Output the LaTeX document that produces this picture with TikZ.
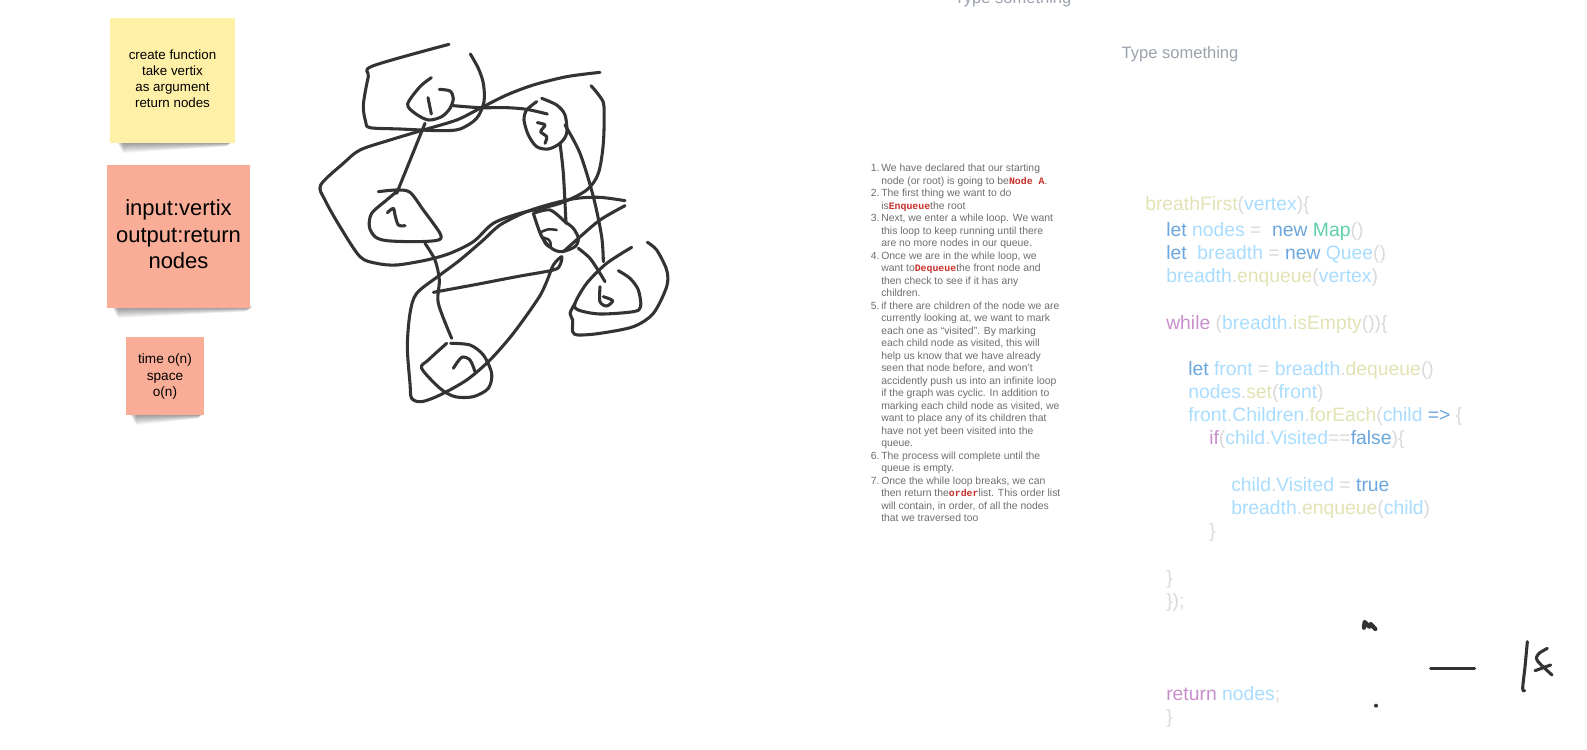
\documentclass[tikz,border=0pt]{standalone}
\usepackage{fontspec}
\setmainfont{Liberation Sans}
\newfontfamily\redmono{Liberation Mono}
\usepackage{tikz}
\definecolor{stickyyellow}{HTML}{FFF0A8}
\definecolor{stickyred}{HTML}{F9AD97}
\definecolor{inkdark}{HTML}{333333}
\definecolor{listgray}{HTML}{6E6E6E}
\definecolor{listred}{HTML}{C9302A}
\definecolor{hintgray}{HTML}{9AA3AD}
\definecolor{codevar}{HTML}{A9DDFF}
\definecolor{codefn}{HTML}{E2E3B4}
\definecolor{codekey}{HTML}{6BA6DD}
\definecolor{codectl}{HTML}{C88FCB}
\definecolor{codepun}{HTML}{DADADA}
\definecolor{codetype}{HTML}{5FD0AC}
\newcommand{\cv}[1]{\textcolor{codevar}{#1}}
\newcommand{\cf}[1]{\textcolor{codefn}{#1}}
\newcommand{\ck}[1]{\textcolor{codekey}{#1}}
\newcommand{\cc}[1]{\textcolor{codectl}{#1}}
\newcommand{\cp}[1]{\textcolor{codepun}{#1}}
\newcommand{\redword}[1]{\textcolor{listred}{\redmono\bfseries\fontsize{7.4}{9.375}\selectfont #1}}
\newcommand{\stickyshadow}[3]{%
  \foreach \k in {1,...,10}{
    \fill[black,opacity=0.045] (#1+\k*0.6,#3-2) -- (#2-\k*0.2,#3-2) -- (#2-\k*0.6,#3+\k*0.35) -- (#1+\k*0.6,#3+\k);
  }
}
\tikzset{
  sticky/.style={fill=#1,minimum width=0pt,inner sep=0pt,align=center,text=black},
  pen/.style={draw=inkdark,line width=2.3pt,line cap=round,line join=round},
  hint/.style={text=hintgray,inner sep=0pt,font=\fontsize{12.4}{15}\selectfont},
  codeline/.style={anchor=base west,inner sep=0pt,font=\fontsize{14.5}{17}\selectfont}
}
\begin{document}
\begin{tikzpicture}[x=0.75pt,y=-0.75pt]
    \clip (0,0) rectangle (1587,749);
    \fill[white] (0,0) rectangle (1587,749);
    % stickies
    \stickyshadow{117}{232}{143}
    \stickyshadow{112}{252}{308}
    \stickyshadow{130}{203}{415}
    \node[sticky=stickyyellow,minimum width=93.75pt,minimum height=93.75pt] (create) at (172.5,80.5) {};
    \node[inner sep=0pt,align=center,font=\fontsize{10}{12}\selectfont]
      (createtxt) at (172.5,78.5) {create function\\take vertix\\as argument\\return nodes};
    \node[sticky=stickyred,minimum width=107.25pt,minimum height=107.25pt] (inout) at (178.5,236.5) {};
    \node[inner sep=0pt,align=center,font=\fontsize{16.5}{19.9}\selectfont]
      (inouttxt) at (178.5,234.5) {input:vertix\\output:return\\nodes};
    \node[sticky=stickyred,minimum width=58.5pt,minimum height=58.5pt] (bigo) at (165,376) {};
    \node[inner sep=0pt,align=center,font=\fontsize{10.2}{12.5}\selectfont]
      (bigotxt) at (165,376.5) {time o(n)\\space\\o(n)};
    % hand drawing
    \begin{scope}[shift={(300,30)},x=0.25pt,y=-0.25pt]
      \draw[pen] plot[smooth,tension=0.5] coordinates {(447,43) (218,108) (205,140) (190,225) (197,275) (210,293) (300,297) (420,302) (480,297) (530,265) (552,215) (550,160) (535,115) (511,72)};
      \draw[pen] plot[smooth,tension=0.5] coordinates {(394,143) (360,170) (323,222) (345,250) (385,270) (425,260) (450,235) (460,205) (450,183) (418,178)};
      \draw[pen] (384,203) -- (394,252);
      \draw[pen] plot[smooth,tension=0.5] coordinates {(460,227) (540,233) (620,233) (680,238) (742,252)};
      \draw[pen] plot[smooth,tension=0.5] coordinates {(900,127) (800,140) (700,165) (620,195) (540,235) (470,270) (370,300) (270,330) (180,360) (130,400) (62,465) (75,510) (120,590) (180,680) (230,700) (290,705) (380,690) (450,670) (520,635) (580,580) (660,550) (780,520) (860,480) (895,430) (910,340) (912,230) (900,200) (873,167)};
      \draw[pen] plot[smooth,tension=0.5] coordinates {(725,205) (770,225) (795,255) (800,310) (780,340) (745,357) (710,350) (685,315) (672,270) (680,240) (710,215)};
      \draw[pen] plot[smooth,tension=0.5] coordinates {(712,278) (735,285) (722,305) (740,320) (735,340)};
      \draw[pen] (375,280) -- (290,490);
      \draw[pen] plot[smooth,tension=0.5] coordinates {(235,485) (290,480) (330,487) (370,540) (420,610) (415,630) (350,635) (260,632) (225,620) (208,590) (215,550) (260,510) (290,485)};
      \draw[pen] plot[smooth,tension=0.5] coordinates {(262,548) (280,535) (285,555) (295,585) (315,587)};
      \draw[pen] plot[smooth,tension=0.5] coordinates {(375,640) (405,690) (418,750) (415,820) (455,925)};
      \draw[pen] plot[smooth,tension=0.5] coordinates {(452,940) (510,945) (550,975) (575,1030) (565,1075) (520,1100) (465,1100) (420,1075) (365,1015) (385,990) (440,940)};
      \draw[pen] plot[smooth,tension=0.5] coordinates {(460,1015) (485,982) (510,990) (525,1025)};
      \draw[pen] plot[smooth,tension=0.5] coordinates {(975,512) (900,502) (830,505) (760,520) (680,545) (600,585) (550,630) (480,690) (420,735) (350,790) (330,850) (322,950) (330,1060) (335,1105) (365,1115) (420,1095) (500,1050) (570,990) (640,910) (715,805) (740,755) (760,705) (785,680) (780,705) (760,720) (650,740) (520,765) (400,787)};
      \draw[pen] plot[smooth,tension=0.5] coordinates {(700,550) (725,620) (755,655) (785,665) (825,650) (835,625) (820,595) (795,575) (750,540) (700,550)};
      \draw[pen,line width=1.9pt] plot[smooth,tension=0.5] coordinates {(770,600) (745,598) (722,608) (728,622) (745,628) (752,640) (750,652) (735,640) (728,622)};
      \draw[pen] plot[smooth,tension=0.5] coordinates {(975,527) (900,570) (835,625) (790,665)};
      \draw[pen] plot[smooth,tension=0.5] coordinates {(780,340) (790,430) (798,580)};
      \draw[pen] plot[smooth,tension=0.5] coordinates {(795,285) (840,370) (880,500) (905,620) (910,695)};
      \draw[pen] plot[smooth,tension=0.5] coordinates {(835,655) (870,685) (900,730) (915,755)};
      \draw[pen] plot[smooth,tension=0.5] coordinates {(995,652) (920,700) (860,760) (825,820) (835,840) (900,852) (1000,845) (1022,830) (1015,780) (990,745) (955,722)};
      \draw[pen] plot[smooth,tension=0.5] coordinates {(900,770) (900,815) (920,828) (938,812) (910,800)};
      \draw[pen] plot[smooth,tension=0.5] coordinates {(1042,637) (1070,660) (1100,720) (1100,770) (1060,850) (1000,890) (900,910) (835,915) (818,905) (818,870) (810,850) (825,820)};
    \end{scope}
    \begin{scope}[shift={(1120,450)},x=0.25pt,y=-0.25pt]
      \draw[pen,line width=3.2pt] (732,533) -- (734,516) -- (748,530) -- (752,522) -- (766,537);
      \fill[inkdark] (768,767) circle (6);
      \draw[pen] (932,655) -- (1064,655);
      \draw[pen] plot[smooth,tension=0.5] coordinates {(1222,575) (1215,650) (1208,715) (1214,722)};
      \draw[pen] plot[smooth,tension=0.5] coordinates {(1282,595) (1255,612) (1252,632) (1296,675)};
      \draw[pen] (1245,662) -- (1292,645);
    \end{scope}
    \node[hint] (typetop) at (1013,-1) {Type something};
    \node[hint] (typemid) at (1180,54) {Type something};
    % steps
    \node[anchor=north west,inner sep=0pt,align=left,text=listgray,font=\fontsize{7.8}{9.375}\selectfont]
      (steps) at (881,164) {%
      \llap{1.\,}We have declared that our starting\\
      node (or root) is going to be\redword{Node A}.\\
      \llap{2.\,}The first thing we want to do\\
      is\redword{Enqueue}the root\\
      \llap{3.\,}Next, we enter a while loop. We want\\
      this loop to keep running until there\\
      are no more nodes in our queue.\\
      \llap{4.\,}Once we are in the while loop, we\\
      want to\redword{Dequeue}the front node and\\
      then check to see if it has any\\
      children.\\
      \llap{5.\,}if there are children of the node we are\\
      currently looking at, we want to mark\\
      each one as “visited”. By marking\\
      each child node as visited, this will\\
      help us know that we have already\\
      seen that node before, and won’t\\
      accidently push us into an infinite loop\\
      if the graph was cyclic. In addition to\\
      marking each child node as visited, we\\
      want to place any of its children that\\
      have not yet been visited into the\\
      queue.\\
      \llap{6.\,}The process will complete until the\\
      queue is empty.\\
      \llap{7.\,}Once the while loop breaks, we can\\
      then return the\redword{order}list. This order list\\
      will contain, in order, of all the nodes\\
      that we traversed too};
    % code
    \node[codeline] (c1) at (1145,210) {\cf{breathFirst}\cp{(}\cv{vertex}\cp{)\{}};
    \node[codeline] (c2) at (1166,236) {\ck{let} \cv{nodes} \cp{=}\ \ \ck{new} \textcolor{codetype}{Map}\cp{()}};
    \node[codeline] (c3) at (1166,259) {\ck{let}\ \ \cv{breadth} \cp{=} \ck{new} \cv{Quee}\cp{()}};
    \node[codeline] (c4) at (1166,282) {\cv{breadth}\cp{.}\cf{enqueue}\cp{(}\cv{vertex}\cp{)}};
    \node[codeline] (c5) at (1166,329) {\cc{while} \cp{(}\cv{breadth}\cp{.}\cf{isEmpty}\cp{())\{}};
    \node[codeline] (c6) at (1188,375) {\ck{let} \cv{front} \cp{=} \cv{breadth}\cp{.}\cf{dequeue}\cp{()}};
    \node[codeline] (c7) at (1188,398) {\cv{nodes}\cp{.}\cf{set}\cp{(}\cv{front}\cp{)}};
    \node[codeline] (c8) at (1188,421) {\cv{front}\cp{.}\cv{Children}\cp{.}\cf{forEach}\cp{(}\cv{child} \ck{=>} \cp{\{}};
    \node[codeline] (c9) at (1209,444) {\cc{if}\cp{(}\cv{child}\cp{.}\cv{Visited}\cp{==}\ck{false}\cp{)\{}};
    \node[codeline] (c10) at (1231,491) {\cv{child}\cp{.}\cv{Visited} \cp{=} \ck{true}};
    \node[codeline] (c11) at (1231,514) {\cv{breadth}\cp{.}\cf{enqueue}\cp{(}\cv{child}\cp{)}};
    \node[codeline] (c12) at (1209,537) {\cp{\}}};
    \node[codeline] (c13) at (1166,584) {\cp{\}}};
    \node[codeline] (c14) at (1166,607) {\cp{\});}};
    \node[codeline] (c15) at (1166,700) {\cc{return} \cv{nodes}\cp{;}};
    \node[codeline] (c16) at (1166,723) {\cp{\}}};
  \end{tikzpicture}
\end{document}
